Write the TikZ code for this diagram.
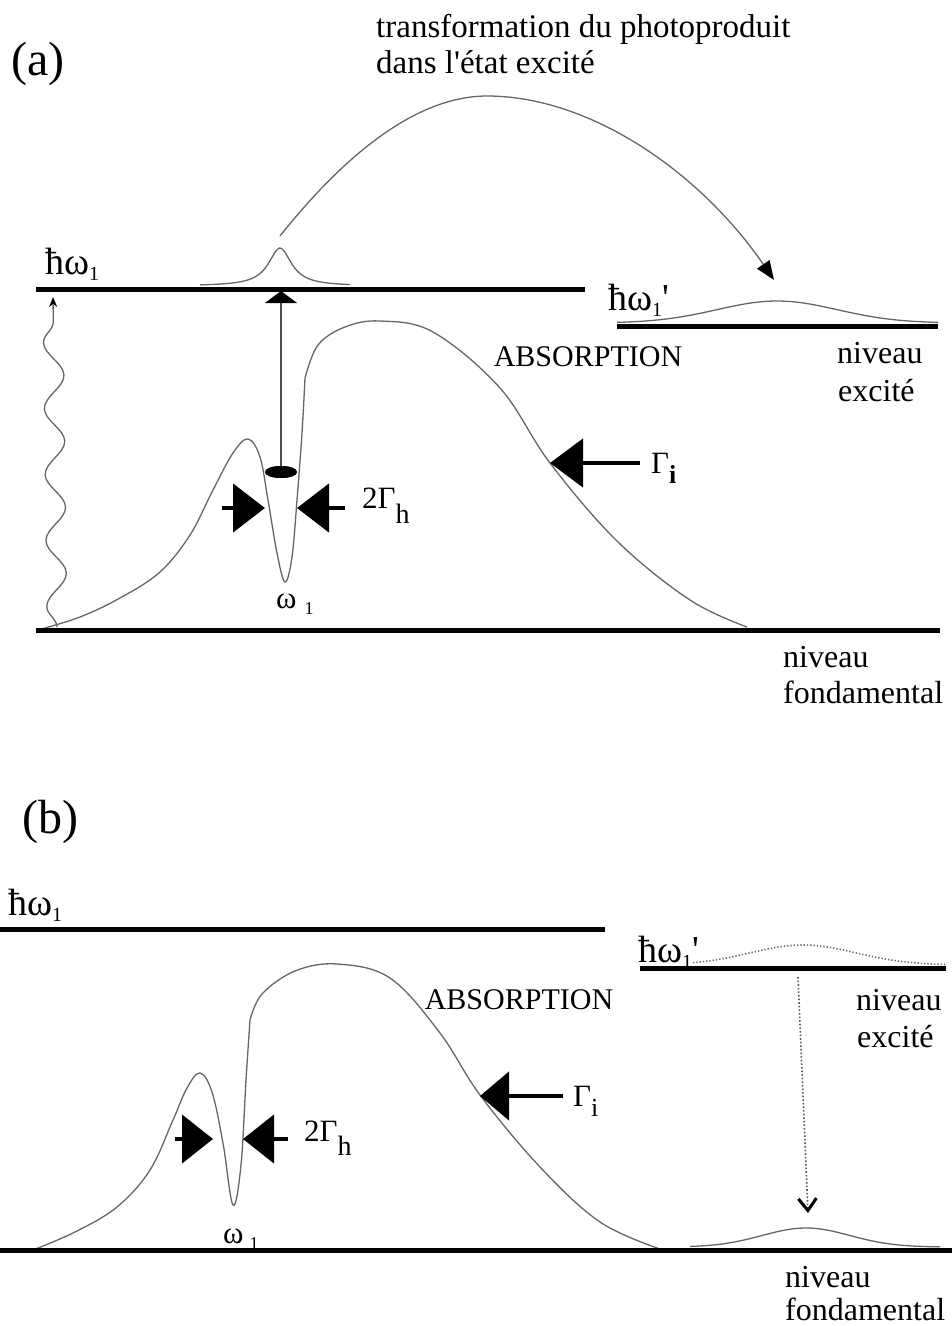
\documentclass[tikz,border=0pt]{standalone}
\usepackage{fontspec}
\setmainfont{Liberation Serif}[Ligatures=TeXOff]
\usetikzlibrary{arrows.meta,decorations.pathmorphing,shapes.geometric}
\newcommand\lowsub[3]{\raisebox{#2}{\fontsize{#1}{#1}\selectfont #3}}
\begin{document}
\begin{tikzpicture}[x=1pt,y=-1pt,
  level/.style={line width=5pt},
  curve/.style={line width=1.3pt, draw=black!60},
  fat/.style={line width=4.5pt, -{Triangle[length=#1,width=48pt]}},
  txt/.style={inner sep=0pt, font=\fontsize{32}{38}\selectfont},
  big/.style={inner sep=0pt, font=\fontsize{48}{56}\selectfont},
  absl/.style={inner sep=0pt, font=\fontsize{30}{34}\selectfont},
  hw/.style={inner sep=0pt, font=\fontsize{38}{44}\selectfont},
  gam/.style={inner sep=0pt, font=\fontsize{31}{36}\selectfont},
]
\useasboundingbox (0,0) rectangle (952,1326);

% ================= (a) =================
\node[big] (la) at (38,64) {(a)};
\node[txt, font=\fontsize{33}{38}\selectfont, anchor=base west] (t1) at (376,37) {transformation du photoproduit};
\node[txt, font=\fontsize{33}{38}\selectfont, anchor=base west] (t2) at (376,73) {dans l'état excité};

\node[hw, anchor=base west] (hwa) at (45,274) {ħω\lowsub{20}{-6pt}{1}};
\coordinate (a1L) at (36,289); \coordinate (a1R) at (585,289);
\draw[level] (a1L) -- (a1R);
\draw[curve] plot[domain=200:350,samples=90] (\x,{286-38/(1+((\x-280)/14)^2)});

% transfer arc
\coordinate (pk) at (280,236);
\coordinate (arctop) at (487,96);
\coordinate (arcend) at (774,280);
\draw[curve, -{Triangle[length=19pt,width=15pt,color=black]}]
  (pk) .. controls (320,186) and (400,96) .. (arctop)
       .. controls (590,96) and (700,172) .. (arcend);

% hole-burning arrow
\node[ellipse, fill=black, minimum width=32pt, minimum height=12pt, inner sep=0pt] (ell) at (281,472) {};
\coordinate (vt) at (281,291);

% wavy excitation
\coordinate (wv0) at (57,627); \coordinate (wv1) at (53,297);
\draw[curve, decorate, decoration={snake,amplitude=10pt,segment length=66pt,post length=8pt},
  -{Stealth[length=10pt,width=8pt,color=black]}] (wv0) -- (wv1);

% absorption curve (a)
\draw[curve] plot[smooth, tension=0.6] coordinates {(38,630) (80,617) (120,598) (160,572) (190,535) (213,490) (233,453) (248,439) (260,457) (268,500) (277,553) (285,582) (292,557) (297,500) (302,433) (305,378)}
  plot[smooth, tension=0.6] coordinates {(305,378) (318,345) (345,327) (380,321) (433,332) (500,388) (550,463) (617,541) (690,600) (747,627)};

\node[ellipse, fill=black, minimum width=32pt, minimum height=12pt, inner sep=0pt] at (ell) {};
\draw[line width=1.3pt, draw=black!70, -{Triangle[length=12pt,width=32pt,color=black]}] (ell.north) -- (vt);

% 2 Gamma_h (a)
\coordinate (ha1) at (222,508); \coordinate (ha2) at (265,508);
\coordinate (hb1) at (345,508); \coordinate (hb2) at (297,508);
\draw[fat=32pt] (ha1) -- (ha2);
\draw[fat=32pt] (hb1) -- (hb2);
\node[gam, anchor=base west] (gha) at (362,508) {2Γ\lowsub{28}{-15pt}{h}};

% Gamma_i (a)
\coordinate (gi1) at (640,463); \coordinate (gi2) at (550,463);
\draw[fat=33pt] (gi1) -- (gi2);
\node[gam, anchor=base west] (gia) at (651,473) {Γ\lowsub{26}{-10pt}{\textbf{i}}};

\node[absl] (absa) at (588,357) {ABSORPTION};

% excited level (a)
\node[hw, anchor=base west] (hwpa) at (608,310) {ħω\lowsub{20}{-6pt}{1}'};
\coordinate (a2L) at (617,326); \coordinate (a2R) at (938,326);
\draw[level] (a2L) -- (a2R);
\draw[curve] plot[domain=617:938,samples=90] (\x,{323-22*exp(-((\x-777)/85)^2)});
\node[txt, anchor=base west] (nea1) at (837,363) {niveau};
\node[txt, anchor=base west] (nea2) at (838,401) {excité};

% ground level (a)
\coordinate (a0L) at (36,630); \coordinate (a0R) at (940,630);
\draw[level] (a0L) -- (a0R);
\node[gam, anchor=base west] (wa) at (276,608) {ω\hspace{8pt}\lowsub{18}{-6pt}{1}};
\node[txt, anchor=base west] (nfa1) at (783,667) {niveau};
\node[txt, anchor=base west] (nfa2) at (783,703) {fondamental};

% ================= (b) =================
\node[big] (lb) at (50,822) {(b)};
\node[hw, anchor=base west] (hwb) at (8,915) {ħω\lowsub{20}{-6pt}{1}};
\coordinate (b1L) at (0,929); \coordinate (b1R) at (605,929);
\draw[level] (b1L) -- (b1R);

% absorption curve (b)
\draw[curve] plot[smooth, tension=0.6] coordinates {(33,1250) (75,1232) (117,1207) (150,1170) (173,1120) (187,1088) (200,1073) (212,1092) (223,1143) (233,1205) (241,1165) (246,1080) (250,1020)}
  plot[smooth, tension=0.6] coordinates {(250,1020) (262,994) (295,971) (337,964) (390,978) (440,1033) (480,1095) (540,1167) (600,1222) (660,1249)};

% 2 Gamma_h (b)
\coordinate (hc1) at (175,1139); \coordinate (hc2) at (213,1139);
\coordinate (hd1) at (288,1139); \coordinate (hd2) at (243,1139);
\draw[fat=31pt] (hc1) -- (hc2);
\draw[fat=31pt] (hd1) -- (hd2);
\node[gam, anchor=base west] (ghb) at (304,1141) {2Γ\lowsub{28}{-14pt}{h}};

% Gamma_i (b)
\coordinate (gj1) at (563,1096); \coordinate (gj2) at (480,1096);
\draw[fat=29pt] (gj1) -- (gj2);
\node[gam, anchor=base west] (gib) at (573,1106) {Γ\lowsub{26}{-10pt}{i}};

\node[absl] (absb) at (519,1000) {ABSORPTION};

% excited level (b)
\node[hw, anchor=base west] (hwpb) at (638,962) {ħω\lowsub{20}{-6pt}{1}'};
\coordinate (b2L) at (640,968); \coordinate (b2R) at (946,968);
\draw[level] (b2L) -- (b2R);
\draw[curve, dotted, line width=1.6pt] plot[domain=693:946,samples=80] (\x,{965-20*exp(-((\x-803)/75)^2)});
\node[txt, anchor=base west] (neb1) at (856,1010) {niveau};
\node[txt, anchor=base west] (neb2) at (857,1047) {excité};

% relaxation
\coordinate (dt0) at (798,977); \coordinate (dt1) at (808,1213);
\draw[line width=1.6pt, dotted, draw=black!65, -{Straight Barb[length=12pt,width=18pt,line width=3pt,color=black]}] (dt0) -- (dt1);

% ground level (b)
\coordinate (b0L) at (0,1250); \coordinate (b0R) at (952,1250);
\draw[level] (b0L) -- (b0R);
\draw[curve] plot[domain=690:940,samples=80] (\x,{1247-19*exp(-((\x-806)/62)^2)});
\node[gam, anchor=base west] (wb) at (223,1243) {ω\hspace{6pt}\lowsub{18}{-6pt}{1}};
\node[txt, anchor=base west] (nfb1) at (785,1287) {niveau};
\node[txt, anchor=base west] (nfb2) at (785,1320) {fondamental};
\end{tikzpicture}
\end{document}
